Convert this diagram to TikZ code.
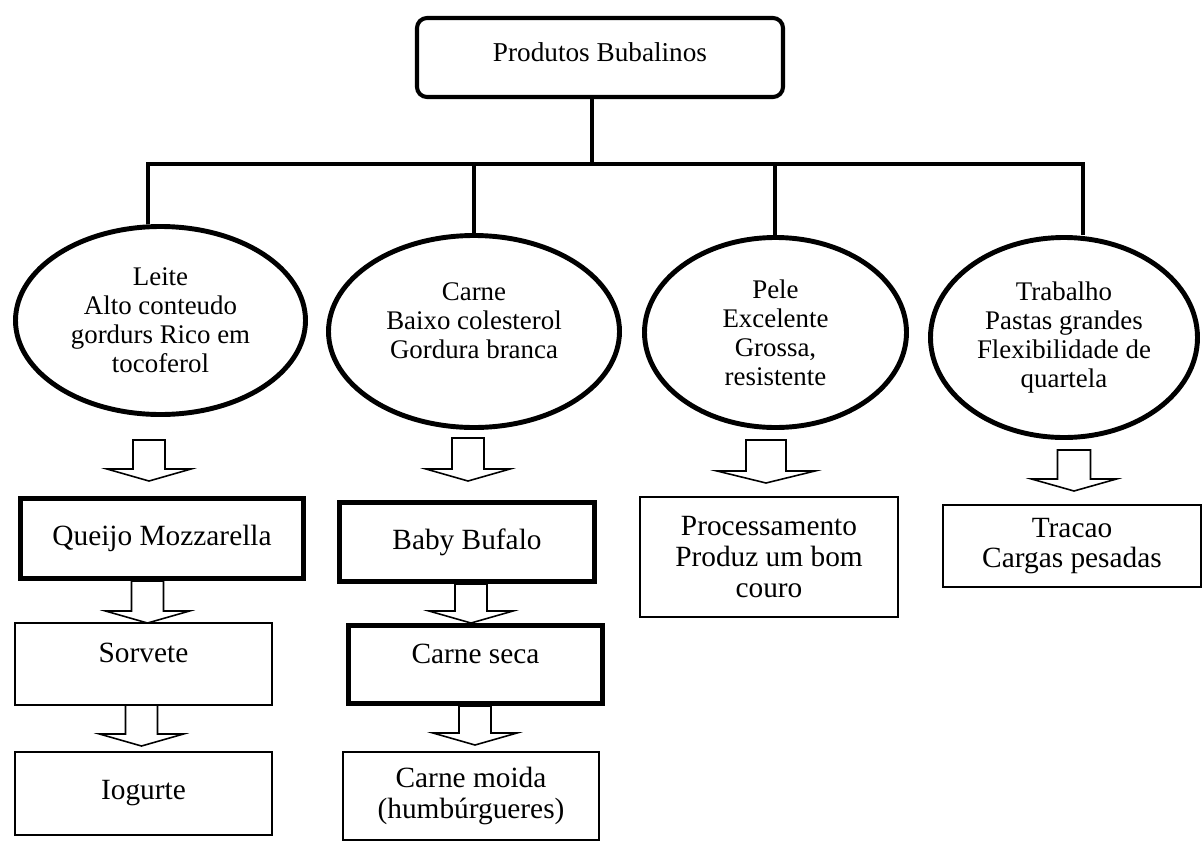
\documentclass[tikz,border=0pt]{standalone}
\usepackage{fontspec}
\setmainfont{Liberation Serif}
\usetikzlibrary{shapes.geometric}

% hollow block arrow pointing down: x, top, tip, half shaft, half head
\newcommand{\hollowdown}[5]{%
  \draw[line width=0.9pt,fill=white,line join=miter]
    (#1-#4,#2) -- (#1-#4,#3+0.24) -- (#1-#5,#3+0.24) -- (#1,#3)
    -- (#1+#5,#3+0.24) -- (#1+#4,#3+0.24) -- (#1+#4,#2) -- cycle;}

\begin{document}
\begin{tikzpicture}[
  font=\fontsize{15.3}{16.5}\selectfont,
  oval/.style={ellipse, draw, line width=2.8pt, inner sep=0pt, align=center},
  heavybox/.style={rectangle, draw, line width=2.8pt, align=center,
    font=\fontsize{16.7}{17.5}\selectfont},
  lightbox/.style={rectangle, draw, line width=1pt, align=center,
    font=\fontsize{16.7}{17.5}\selectfont},
  toptext/.style={text height=0.4cm, text depth=0.45cm},
  link/.style={line width=1.8pt}
]
  \path[fill=white] (0,0) rectangle (24.04,-16.6);

  % root
  \node[draw, line width=2.3pt, rounded corners=0.2cm, minimum width=7.32cm,
    minimum height=1.58cm, text height=0.37cm, text depth=0.23cm,
    font=\fontsize{15.5}{17}\selectfont] (root) at (12,-1.15) {Produtos Bubalinos};

  \coordinate (hub) at (11.84,-3.28);
  \coordinate (b1) at (2.96,-3.28);
  \coordinate (b2) at (9.48,-3.28);
  \coordinate (b3) at (15.5,-3.28);
  \coordinate (b4) at (21.66,-3.28);

  % products
  \node[oval, minimum width=5.8cm, minimum height=3.76cm] (leite) at (3.21,-6.41)
    {Leite\\Alto conteudo\\gordurs Rico em\\tocoferol};
  \node[oval, minimum width=5.82cm, minimum height=3.84cm] (carne) at (9.48,-6.63) {};
  \node[align=center] (carnetxt) at ([yshift=0.22cm]carne.center)
    {Carne\\Baixo colesterol\\Gordura branca};
  \node[oval, minimum width=5.24cm, minimum height=3.8cm] (pele) at (15.51,-6.65)
    {Pele\\Excelente\\Grossa,\\resistente};
  \node[oval, minimum width=5.34cm, minimum height=4cm] (trabalho) at (21.28,-6.75)
    {Trabalho\\Pastas grandes\\Flexibilidade de\\quartela};

  \draw[link] (root.south -| hub) -- (hub);
  \draw[link] (b1 |- leite.north) -- (b1) -- (b4) -- (b4 |- trabalho.north);
  \foreach \b/\e in {b2/carne, b3/pele}
    \draw[link] (\b) -- (\b |- \e.north);

  % milk
  \node[heavybox, minimum width=5.66cm, minimum height=1.6cm] (queijo) at (3.24,-10.77) {Queijo Mozzarella};
  \node[lightbox, toptext, minimum width=5.14cm, minimum height=1.64cm] (sorvete) at (2.87,-13.28) {Sorvete};
  \node[lightbox, minimum width=5.14cm, minimum height=1.66cm] (iogurte) at (2.87,-15.87) {Iogurte};

  % meat
  \node[heavybox, minimum width=5.1cm, minimum height=1.58cm] (baby) at (9.34,-10.84) {Baby Bufalo};
  \node[heavybox, toptext, minimum width=5.08cm, minimum height=1.56cm] (seca) at (9.51,-13.29) {Carne seca};
  \node[lightbox, minimum width=5.12cm, minimum height=1.76cm] (moida) at (9.42,-15.92) {Carne moida\\(humbúrgueres)};

  % skin and work
  \node[lightbox, minimum width=5.16cm, minimum height=2.4cm] (couro) at (15.38,-11.14) {Processamento\\Produz um bom\\couro};
  \node[lightbox, minimum width=5.16cm, minimum height=1.64cm] (tracao) at (21.44,-10.92) {Tracao\\Cargas pesadas};

  % arrows
  \foreach \x/\t/\p in {2.98/-8.8/-9.62, 2.95/-11.62/-12.46, 2.83/-14.1/-14.92,
      9.36/-8.76/-9.62, 9.42/-11.68/-12.46, 9.5/-14.12/-14.9}
    {\hollowdown{\x}{\t}{\p}{0.32}{0.84}}
  \hollowdown{15.32}{-8.8}{-9.66}{0.4}{0.98}
  \hollowdown{21.48}{-9.0}{-9.82}{0.33}{0.85}
\end{tikzpicture}
\end{document}
